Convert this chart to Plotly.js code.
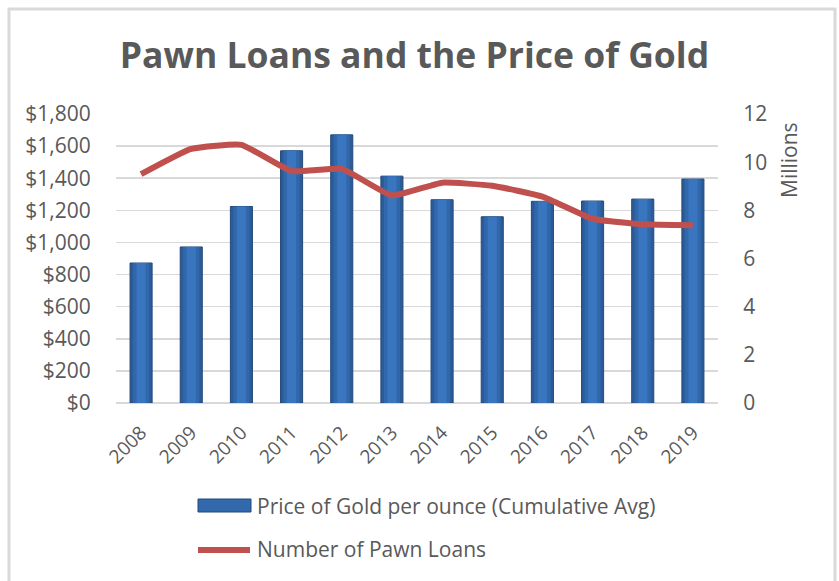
<!DOCTYPE html>
<html>
<head>
<meta charset="utf-8">
<script src="https://cdn.plot.ly/plotly-3.0.1.min.js"></script>
<style>html,body{margin:0;padding:0;background:#fff;}#chart{width:839px;height:581px;}</style>
</head>
<body>
<div id="chart"></div>
<script>
const years = ['2008','2009','2010','2011','2012','2013','2014','2015','2016','2017','2018','2019'];
const goldPrice = [872, 972, 1224, 1571, 1670, 1413, 1266, 1160, 1256, 1258, 1270, 1395];
const pawnLoans = [9.5, 10.55, 10.72, 9.63, 9.72, 8.62, 9.15, 9.02, 8.57, 7.65, 7.42, 7.38];
const goldName = 'Price of Gold per ounce (Cumulative Avg)';
const pawnName = 'Number of Pawn Loans';
const leftTicks = [0, 200, 400, 600, 800, 1000, 1200, 1400, 1600, 1800];
const rightTicks = [0, 2, 4, 6, 8, 10, 12];

const txt = '#595959';
const font = 'Open Sans, sans-serif';

const traces = [
  {type:'bar', x:years, y:goldPrice, name:goldName, width:0.44,
   marker:{color:'#2b5c99', line:{color:'#22497a', width:1}}, showlegend:false, hoverinfo:'y'},
  {type:'bar', x:years, y:goldPrice, name:goldName, width:0.32,
   marker:{color:'#3168ac'}, showlegend:false, hoverinfo:'skip'},
  {type:'bar', x:years, y:goldPrice, name:goldName, width:0.18,
   marker:{color:'#3a76c0'}, showlegend:false, hoverinfo:'skip'},
  {type:'scatter', mode:'lines', x:years, y:pawnLoans, name:pawnName, yaxis:'y2',
   line:{color:'#c0504d', width:6, shape:'spline', smoothing:0.4}, showlegend:false}
];

const px = v => (v - 116) / 602;
const py = v => (403 - v) / 289;

const layout = {
  width:839, height:581,
  margin:{l:116, r:121, t:114, b:178},
  paper_bgcolor:'#ffffff', plot_bgcolor:'#ffffff',
  barmode:'overlay',
  showlegend:false,
  font:{family:font, color:txt},
  title:{text:'<b>Pawn Loans and the Price of Gold</b>', font:{family:font, size:35.5, color:txt},
         x:0.494, xanchor:'center', y:1-56/581, yanchor:'middle', xref:'container', yref:'container'},
  xaxis:{type:'category', tickangle:-45, tickfont:{size:19, color:txt, family:font},
         showgrid:false, showline:false, zeroline:false,
         ticks:'outside', ticklen:10, tickcolor:'rgba(0,0,0,0)'},
  yaxis:{range:[0,1800], tickvals:leftTicks, ticktext:leftTicks.map(v=>'$'+v.toLocaleString('en-US')),
         tickfont:{size:21, color:txt, family:font}, gridcolor:'#d9d9d9', gridwidth:1.5,
         zeroline:true, zerolinecolor:'#d9d9d9', zerolinewidth:1.5,
         ticks:'outside', ticklen:20, tickcolor:'rgba(0,0,0,0)', showline:false},
  yaxis2:{range:[0,12], tickvals:rightTicks, overlaying:'y', side:'right',
          tickfont:{size:21, color:txt, family:font}, showgrid:false, zeroline:false,
          ticks:'outside', ticklen:20, tickcolor:'rgba(0,0,0,0)', showline:false},
  shapes:[
    {type:'rect', xref:'paper', yref:'paper', x0:px(9), x1:px(835), y0:py(9), y1:py(600),
     line:{color:'#d9d9d9', width:3}, fillcolor:'rgba(0,0,0,0)', layer:'below'},
    {type:'rect', xref:'paper', yref:'paper', x0:px(198), x1:px(251), y0:py(512), y1:py(499),
     line:{color:'#22497a', width:1}, fillcolor:'#3269ad'},
    {type:'line', xref:'paper', yref:'paper', x0:px(198), x1:px(250), y0:py(550), y1:py(550),
     line:{color:'#c0504d', width:6}}
  ],
  annotations:[
    {xref:'paper', yref:'paper', x:px(255), y:py(506), xanchor:'left', yanchor:'middle',
     text:goldName, showarrow:false, font:{size:21, color:txt, family:font}},
    {xref:'paper', yref:'paper', x:px(255), y:py(549), xanchor:'left', yanchor:'middle',
     text:pawnName, showarrow:false, font:{size:21, color:txt, family:font}},
    {xref:'paper', yref:'paper', x:px(789), y:py(160), xanchor:'center', yanchor:'middle',
     text:'Millions', textangle:-90, showarrow:false, font:{size:21, color:txt, family:font}}
  ]
};

Plotly.newPlot('chart', traces, layout, {displayModeBar:false, staticPlot:true});
</script>
</body>
</html>
